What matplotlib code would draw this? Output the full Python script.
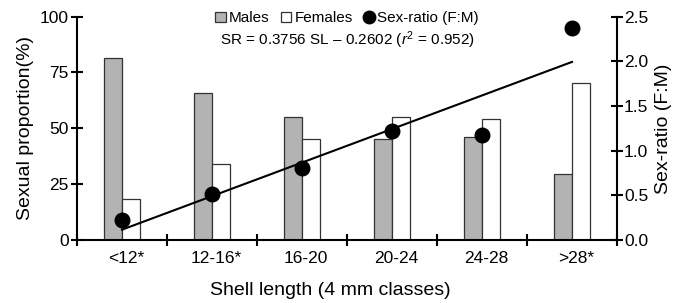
import numpy as np
import matplotlib
matplotlib.use("Agg")
import matplotlib.pyplot as plt
import matplotlib.transforms as mtransforms
from matplotlib.lines import Line2D
from matplotlib.patches import Patch

plt.rcParams['font.family'] = ['Liberation Sans', 'DejaVu Sans']
plt.rcParams['mathtext.fontset'] = 'custom'
plt.rcParams['mathtext.rm'] = 'Liberation Sans'
plt.rcParams['mathtext.it'] = 'Liberation Sans:italic'

# data
classes = ['<12*', '12-16*', '16-20', '20-24', '24-28', '>28*']
males = [81.5, 65.8, 55.0, 45.0, 46.0, 29.6]
females = [18.5, 34.2, 45.0, 55.0, 54.0, 70.4]
sex_ratio = [0.22, 0.51, 0.81, 1.22, 1.18, 2.37]
# regression SR = a*SL + b (SL = class index 1..6)
slope = 0.3756
intercept = -0.2602

x = np.arange(1, len(classes) + 1)
w = 0.2

fig = plt.figure(figsize=(6.94, 3.03), dpi=100)
ax = fig.add_axes([0.111, 0.208, 0.778, 0.737])

ax.bar(x - w/2, males, width=w, color='#b3b3b3', edgecolor='#333333', linewidth=0.9, zorder=2)
ax.bar(x + w/2, females, width=w, color='white', edgecolor='#333333', linewidth=0.9, zorder=2)

ax.set_xlim(0.5, 6.5)
ax.set_ylim(0, 100)
ax.set_yticks([0, 25, 50, 75, 100])
ax.set_xticks(x)
ax.set_xticklabels(classes)
ax.set_xticks(np.arange(0.5, 7, 1), minor=True)
ax.tick_params(axis='x', which='major', length=0, labelsize=12.5, pad=8)
ax.tick_params(axis='x', which='minor', direction='inout', length=8, width=1.5)
ax.tick_params(axis='y', direction='inout', length=8, width=1.5, labelsize=12.5, pad=2)
shift = mtransforms.ScaledTranslation(0.04, 0, fig.dpi_scale_trans)
for lab in ax.get_xticklabels():
    lab.set_transform(lab.get_transform() + shift)
ax.spines['top'].set_visible(False)
ax.spines['right'].set_visible(False)
for s in ['left', 'bottom']:
    ax.spines[s].set_linewidth(1.5)
ax.set_xlabel('Shell length (4 mm classes)', fontsize=14)
ax.xaxis.set_label_coords(0.469, -0.186)
ax.set_ylabel('Sexual proportion(%)', fontsize=14, labelpad=4)

ax2 = ax.twinx()
ax2.set_ylim(0, 2.5)
ax2.set_yticks([0, 0.5, 1.0, 1.5, 2.0, 2.5])
ax2.set_yticklabels(['0.0', '0.5', '1.0', '1.5', '2.0', '2.5'])
ax2.tick_params(axis='y', direction='inout', length=8, width=1.5, labelsize=12.5, pad=1)
for s in ['top', 'left', 'bottom']:
    ax2.spines[s].set_visible(False)
ax2.spines['right'].set_linewidth(1.5)
ax2.set_ylabel('Sex-ratio (F:M)', fontsize=14, labelpad=5)

xl = np.array([x[0], x[-1]], dtype=float)
ax2.plot(xl, slope * xl + intercept, color='black', linewidth=1.5, zorder=3)
ax2.scatter(x, sex_ratio, s=110, color='black', zorder=4)

handles = [
    Patch(facecolor='#b3b3b3', edgecolor='#333333', linewidth=0.9, label='Males'),
    Patch(facecolor='white', edgecolor='#333333', linewidth=0.9, label='Females'),
    Line2D([], [], marker='o', linestyle='none', color='black', markersize=9, label='Sex-ratio (F:M)'),
]
leg = ax2.legend(handles=handles, loc='center', bbox_to_anchor=(0.50, 0.993), ncol=3,
                 frameon=False, fontsize=11, handlelength=0.7, handleheight=0.7,
                 handletextpad=0.2, columnspacing=0.7, borderpad=0)
ax2.text(0.50, 0.895, r'SR = 0.3756 SL – 0.2602 ($r^2$ = 0.952)', transform=ax2.transAxes,
         ha='center', va='center', fontsize=11)

fig.savefig('out.png', dpi=100)
